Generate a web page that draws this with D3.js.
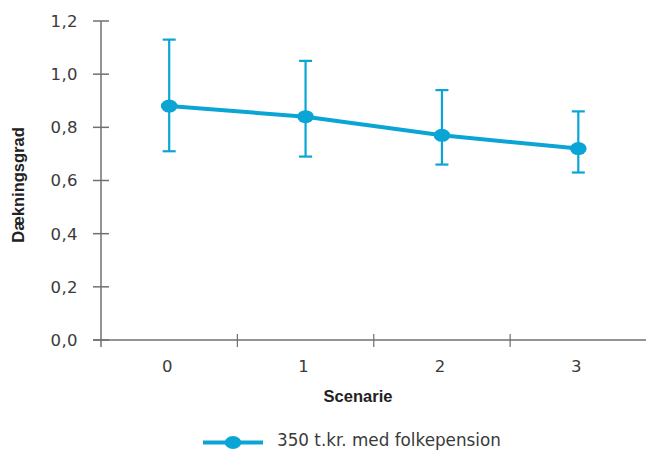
<!DOCTYPE html>
<html><head><meta charset="utf-8">
<script src="https://cdn.jsdelivr.net/npm/d3@7"></script>
<style>
html,body{margin:0;padding:0;background:#fff;}
svg{display:block;}
</style></head>
<body>
<svg id="chart" width="646" height="450"></svg>
<script>
const categories = ["0", "1", "2", "3"];
const values = [0.88, 0.84, 0.77, 0.72];
const upper = [1.13, 1.05, 0.94, 0.86];
const lower = [0.71, 0.69, 0.66, 0.63];
const yTicks = [0, 0.2, 0.4, 0.6, 0.8, 1.0, 1.2];
const seriesName = "350 t.kr. med folkepension";
const xTitle = "Scenarie";
const yTitle = "Dækningsgrad";

const color = "#0aa5d5";
const axisColor = "#707070";
const textColor = "#3a3a3a";
const font = "'DejaVu Sans', 'Noto Sans', sans-serif";
const boldFont = "'Liberation Sans', Arial, sans-serif";

const svg = d3.select("#chart");
const x = d3.scaleBand().domain(categories).range([101, 646.5]);
const y = d3.scaleLinear().domain([0, 1.2]).range([340, 21]);
const fmt = d => d.toFixed(1).replace(".", ",");

// y axis
const gy = svg.append("g");
gy.append("line").attr("x1", 101).attr("x2", 101).attr("y1", y(1.2)).attr("y2", 347)
  .attr("stroke", axisColor).attr("stroke-width", 1.5);
gy.selectAll("line.t").data(yTicks).join("line").attr("class", "t")
  .attr("x1", 93).attr("x2", 109).attr("y1", d => y(d)).attr("y2", d => y(d))
  .attr("stroke", axisColor).attr("stroke-width", 1.5);
gy.selectAll("text").data(yTicks).join("text")
  .attr("x", 78).attr("y", d => y(d)).attr("dy", "0.36em").attr("text-anchor", "end")
  .attr("font-family", font).attr("font-size", 16.5).attr("fill", textColor)
  .attr("letter-spacing", 0.4)
  .text(fmt);

// x axis
const gx = svg.append("g");
gx.append("line").attr("x1", 93).attr("x2", 646).attr("y1", y(0)).attr("y2", y(0))
  .attr("stroke", axisColor).attr("stroke-width", 1.5);
gx.selectAll("line.t").data(categories.slice(1)).join("line").attr("class", "t")
  .attr("x1", d => x(d)).attr("x2", d => x(d)).attr("y1", y(0) - 6).attr("y2", y(0) + 7)
  .attr("stroke", axisColor).attr("stroke-width", 1.2);
gx.selectAll("text").data(categories).join("text")
  .attr("x", d => x(d) + x.bandwidth() / 2 - 2).attr("y", 366).attr("dy", "0.36em")
  .attr("text-anchor", "middle")
  .attr("font-family", font).attr("font-size", 16.5).attr("fill", textColor)
  .text(d => d);

svg.append("text").attr("x", 358).attr("y", 396).attr("dy", "0.35em").attr("text-anchor", "middle")
  .attr("font-family", boldFont).attr("font-size", 16.5).attr("font-weight", "bold").attr("fill", "#222")
  .text(xTitle);
svg.append("text").attr("transform", "translate(18.5,185) rotate(-90)").attr("dy", "0.35em")
  .attr("text-anchor", "middle")
  .attr("font-family", boldFont).attr("font-size", 16.5).attr("font-weight", "bold").attr("fill", "#222")
  .text(yTitle);

const data = categories.map((c, i) => ({c, v: values[i], hi: upper[i], lo: lower[i]}));
const cx = d => x(d.c) + x.bandwidth() / 2;

// error bars
const eb = svg.append("g").attr("stroke", color).attr("stroke-width", 2.2);
eb.selectAll("line.v").data(data).join("line").attr("class", "v")
  .attr("x1", cx).attr("x2", cx).attr("y1", d => y(d.hi)).attr("y2", d => y(d.lo));
eb.selectAll("line.h").data(data).join("line").attr("class", "h")
  .attr("x1", d => cx(d) - 6.5).attr("x2", d => cx(d) + 6.5).attr("y1", d => y(d.hi)).attr("y2", d => y(d.hi));
eb.selectAll("line.l").data(data).join("line").attr("class", "l")
  .attr("x1", d => cx(d) - 6.5).attr("x2", d => cx(d) + 6.5).attr("y1", d => y(d.lo)).attr("y2", d => y(d.lo));

// line
svg.append("path").datum(data)
  .attr("d", d3.line().x(cx).y(d => y(d.v)))
  .attr("fill", "none").attr("stroke", color).attr("stroke-width", 4);
svg.selectAll("ellipse.m").data(data).join("ellipse").attr("class", "m")
  .attr("cx", cx).attr("cy", d => y(d.v)).attr("rx", 8.3).attr("ry", 6.5).attr("fill", color);

// legend
const lg = svg.append("g");
lg.append("line").attr("x1", 203).attr("x2", 263).attr("y1", 442.5).attr("y2", 442.5)
  .attr("stroke", color).attr("stroke-width", 4);
lg.append("ellipse").attr("cx", 233).attr("cy", 442.5).attr("rx", 8.3).attr("ry", 6.5).attr("fill", color);
lg.append("text").attr("x", 277).attr("y", 446)
  .attr("font-family", font).attr("font-size", 16.8).attr("fill", textColor).text(seriesName);
</script>
</body></html>
